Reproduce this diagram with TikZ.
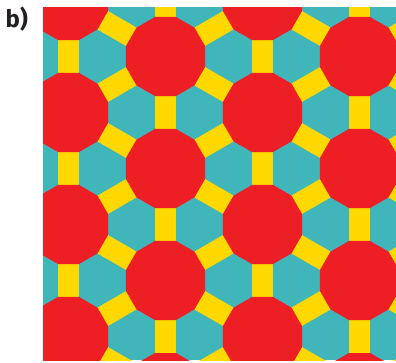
\documentclass[tikz,border=0pt]{standalone}
\usepackage{fontspec}
\setsansfont{Fira Sans}
\usepackage{tikz}
\definecolor{dod}{RGB}{237,30,36}
\definecolor{hex}{RGB}{64,182,187}
\definecolor{sqr}{RGB}{255,216,0}
\definecolor{lbl}{RGB}{35,31,32}

\begin{document}
\begin{tikzpicture}[x=1pt,y=-1pt,
  dodeca/.style={fill=dod},
  link/.style={fill=sqr},
  tag/.style={font=\sffamily\bfseries\fontsize{24}{24}\selectfont,text=lbl,inner sep=0pt}]
  \useasboundingbox (0,0) rectangle (396,362);
  \node[tag,anchor=base west] (lbl) at (5.5,27) {b)};
  \begin{scope}
    \clip (43,7) rectangle (396,360);
    \fill[hex] (43,7) rectangle (396,360);
    % yellow links between neighbouring dodecagons
    \foreach \n in {-3,...,2}{
      \foreach \m in {-4,...,3}{
        \pgfmathsetmacro{\cx}{262.5+97*\n}
        \pgfmathsetmacro{\cy}{224.5+112*\m+56*\n}
        \foreach \a in {90,30,-30}
          \fill[link,shift={(\cx,\cy)},rotate=\a] (0,-10.6) rectangle (112,10.6);
      }
    }
    % red dodecagons
    \foreach \n in {-3,...,2}{
      \foreach \m in {-4,...,3}{
        \pgfmathsetmacro{\cx}{262.5+97*\n}
        \pgfmathsetmacro{\cy}{224.5+112*\m+56*\n}
        \fill[dodeca,shift={(\cx,\cy)}] (15:40.9)
          \foreach \k in {1,...,11}{ -- (15+30*\k:40.9)} -- cycle;
      }
    }
  \end{scope}
\end{tikzpicture}
\end{document}
